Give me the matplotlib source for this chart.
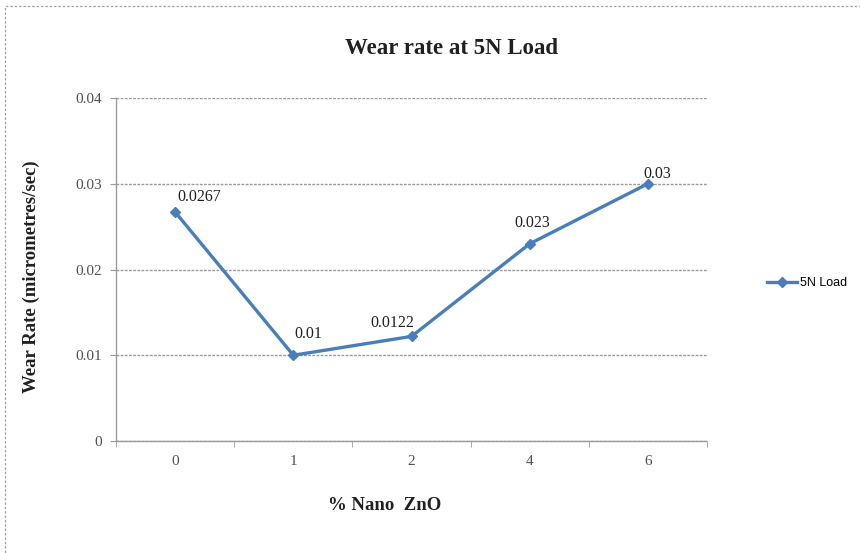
import matplotlib.pyplot as plt
from matplotlib.patches import Rectangle

# Wear rate data at 5N load
zno_pct = ["0", "1", "2", "4", "6"]
wear_rate = [0.0267, 0.01, 0.0122, 0.023, 0.03]
data_labels = ["0.0267", "0.01", "0.0122", "0.023", "0.03"]
y_ticks = [0, 0.01, 0.02, 0.03, 0.04]
y_tick_labels = ["0", "0.01", "0.02", "0.03", "0.04"]

serif = ["Liberation Serif", "DejaVu Serif"]
line_color = "#4a7ebb"
grid_color = "#9a9a9a"

fig = plt.figure(figsize=(8.6, 5.53), dpi=100)

# dotted frame round the chart area
fig.patches.append(Rectangle((0.006, -0.02), 1.02, 1.01, transform=fig.transFigure,
                             fill=False, edgecolor="#a0a0a0", linewidth=0.9,
                             linestyle=(0, (2, 1.5))))

ax = fig.add_axes([0.135, 0.2025, 0.687, 0.6203])

x = list(range(len(zno_pct)))
ax.plot(x, wear_rate, color=line_color, linewidth=2.4, marker="D",
        markersize=5, markerfacecolor=line_color, markeredgecolor=line_color,
        label="5N Load")

# label offsets in points (label centre relative to the marker)
label_offsets = [(17, 11), (11, 15), (-14, 10), (2, 15), (7, 7)]
for xi, yi, txt, off in zip(x, wear_rate, data_labels, label_offsets):
    ax.annotate(txt, (xi, yi), xytext=off, textcoords="offset points",
                ha="center", va="center", fontsize=11.5, family=serif,
                color="#202020")

ax.set_xlim(-0.5, len(zno_pct) - 0.5)
ax.set_ylim(0, 0.04)
ax.set_xticks(x)
ax.set_xticklabels(zno_pct)
ax.set_xticks([i - 0.5 for i in range(len(zno_pct) + 1)], minor=True)
ax.tick_params(axis="x", which="major", length=0, pad=10)
ax.tick_params(axis="x", which="minor", length=4, color=grid_color)
ax.set_yticks(y_ticks)
ax.set_yticklabels(y_tick_labels)
ax.tick_params(axis="y", length=4, color=grid_color, pad=6)
for lbl in ax.get_xticklabels() + ax.get_yticklabels():
    lbl.set_family(serif)
    lbl.set_fontsize(11)
    lbl.set_color("#505050")

ax.grid(axis="y", color=grid_color, linestyle=(0, (2, 1)), linewidth=1.0)
ax.set_axisbelow(True)
for side in ["top", "right"]:
    ax.spines[side].set_visible(False)
for side in ["left", "bottom"]:
    ax.spines[side].set_color(grid_color)
    ax.spines[side].set_linestyle((0, (2, 1)))
    ax.spines[side].set_linewidth(1.0)

fig.text(0.525, 0.913, "Wear rate at 5N Load", ha="center", va="center",
         fontsize=16.5, fontweight="bold", family=serif, color="#202020")
fig.text(0.447, 0.085, "% Nano  ZnO", ha="center", va="center",
         fontsize=13.5, fontweight="bold", family=serif, color="#202020")
fig.text(0.036, 0.50, "Wear Rate (micrometres/sec)", ha="center", va="center",
         rotation=90, fontsize=13.5, fontweight="bold", family=serif,
         color="#202020")

fig.legend(loc="center left", bbox_to_anchor=(0.885, 0.488), frameon=False,
           handlelength=2.4, handletextpad=0.2, borderpad=0,
           prop={"family": "Liberation Sans", "size": 9})

fig.savefig("out.png", dpi=100)
